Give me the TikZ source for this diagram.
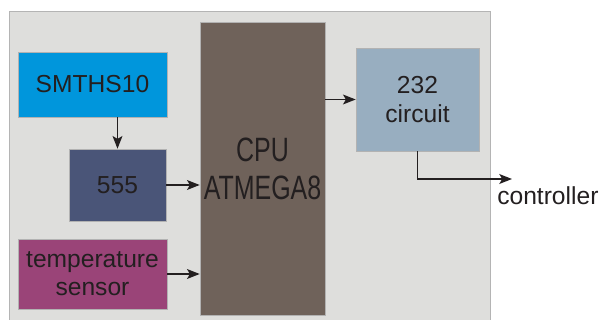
\documentclass[tikz,border=0pt]{standalone}
\usepackage{fontspec}
\setmainfont{Liberation Sans}
\usetikzlibrary{arrows.meta}
\definecolor{panelgray}{HTML}{DEDEDC}
\definecolor{panelline}{HTML}{B4B4B4}
\definecolor{smthsblue}{HTML}{0096DC}
\definecolor{timerblue}{HTML}{4A5578}
\definecolor{tempred}{HTML}{9A4478}
\definecolor{cpubrown}{HTML}{6F625A}
\definecolor{rsblue}{HTML}{98AEC0}
\definecolor{ink}{HTML}{231F20}
\begin{document}
\begin{tikzpicture}[x=0.025cm,y=-0.025cm,
  block/.style={draw=black!30, line width=0.4pt, inner sep=0pt, align=center,
    text=ink, font=\fontsize{17.5}{20}\selectfont},
  arr/.style={-{Stealth[length=9pt,width=7pt,inset=2pt]}, line width=0.9pt, draw=ink}]
\useasboundingbox (0,0) rectangle (600,320);
\fill [panelgray] (9,11) rectangle (490,320);
\draw [panelline, line width=0.6pt] (9,320) -- (9,11) -- (490,11) -- (490,320);
\node [block, fill=smthsblue, minimum width=3.725cm, minimum height=1.625cm] (smths) at (92.5,84.5) {SMTHS10};
\node [block, fill=timerblue, minimum width=2.425cm, minimum height=1.8cm] (timer) at (117.5,185) {555};
\node [block, fill=tempred, minimum width=3.725cm, minimum height=1.75cm] (temp) at (92.5,274) {temperature\\sensor};
\node [block, fill=cpubrown, minimum width=3.125cm, minimum height=7.325cm,
  font=\fontsize{24}{27}\selectfont] (cpu) at (262.5,168.5)
  {\scalebox{0.74}[1]{CPU}\\\scalebox{0.74}[1]{ATMEGA8}};
\node [block, fill=rsblue, minimum width=3.075cm, minimum height=2.575cm] (rs) at (417.5,99.5) {232\\circuit};
\coordinate (tip) at (512,179);
\node [text=ink, font=\fontsize{17.5}{20}\selectfont, anchor=base west, inner sep=0pt] (ctrl) at (497,205) {controller};
\draw [arr] (smths.south -| timer.north) -- (timer.north);
\draw [arr] (timer.east) -- (timer.east -| cpu.west);
\draw [arr] (temp.east) -- (temp.east -| cpu.west);
\draw [arr] (rs.west -| cpu.east) -- (rs.west);
\draw [arr] (rs.south) |- (tip);
\end{tikzpicture}
\end{document}
